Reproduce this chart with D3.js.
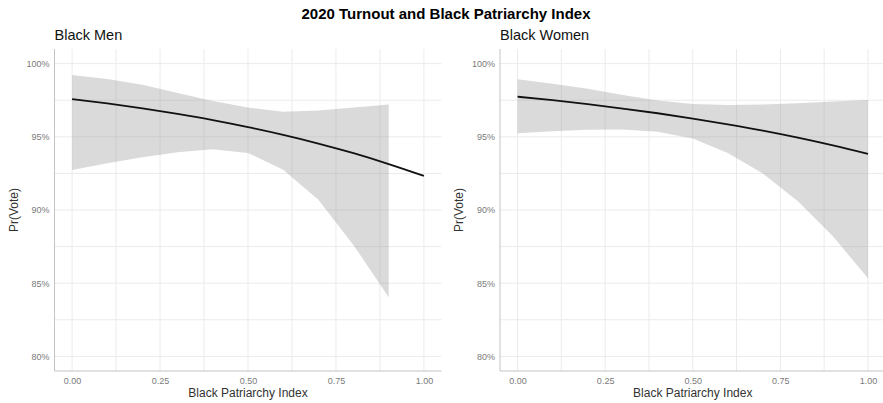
<!DOCTYPE html>
<html>
<head>
<meta charset="utf-8">
<script src="https://cdn.jsdelivr.net/npm/d3@7"></script>
<style>
  html, body { margin: 0; padding: 0; background: #fff; }
  svg { display: block; font-family: "Liberation Sans", Arial, Helvetica, sans-serif; }
</style>
</head>
<body>
<svg id="chart" width="883" height="403"></svg>
<script>
// Black Patriarchy Index values at which predictions were computed
const patriarchyIndex = [0, 0.1, 0.2, 0.3, 0.4, 0.5, 0.6, 0.7, 0.8, 0.9, 1.0];

// Black Men: predicted probability of voting and 95% interval (interval stops at 0.9)
const menFit   = [0.9758, 0.9728, 0.9694, 0.9656, 0.9614, 0.9566, 0.9513, 0.9454, 0.9388, 0.9314, 0.9233];
const menLower = [0.9273, 0.9320, 0.9360, 0.9395, 0.9415, 0.9390, 0.9275, 0.9070, 0.8760, 0.8404, null];
const menUpper = [0.9922, 0.9895, 0.9855, 0.9800, 0.9745, 0.9700, 0.9672, 0.9680, 0.9700, 0.9720, null];

// Black Women: predicted probability of voting and 95% interval
const womenFit   = [0.9774, 0.9750, 0.9723, 0.9693, 0.9661, 0.9625, 0.9585, 0.9542, 0.9494, 0.9441, 0.9383];
const womenLower = [0.9524, 0.9538, 0.9548, 0.9550, 0.9535, 0.9488, 0.9390, 0.9250, 0.9060, 0.8820, 0.8534];
const womenUpper = [0.9893, 0.9862, 0.9828, 0.9785, 0.9748, 0.9725, 0.9717, 0.9720, 0.9730, 0.9742, 0.9752];

// Axis breaks
const yMajor = [0.80, 0.85, 0.90, 0.95, 1.00];
const yMinor = [0.825, 0.875, 0.925, 0.975];
const xMajor = [0, 0.25, 0.5, 0.75, 1.0];
const xMinor = [0.125, 0.375, 0.625, 0.875];

const panels = [
  { title: "Black Men",   fit: menFit,   lower: menLower,   upper: menUpper,   left: 54.5, right: 441.5 },
  { title: "Black Women", fit: womenFit, lower: womenLower, upper: womenUpper, left: 500,  right: 885.5 }
];

const svg = d3.select("#chart");
const plotTop = 49, plotBottom = 371;

svg.append("text")
  .attr("x", 446).attr("y", 19)
  .attr("text-anchor", "middle")
  .attr("font-size", 15).attr("font-weight", "bold").attr("fill", "#000")
  .text("2020 Turnout and Black Patriarchy Index");

panels.forEach(p => {
  const x = d3.scaleLinear().domain([-0.05, 1.05]).range([p.left, p.right]);
  const y = d3.scaleLinear().domain([0.79, 1.01]).range([plotBottom, plotTop]);
  const g = svg.append("g");

  // grid
  g.selectAll(null).data(yMinor.concat(yMajor)).join("line")
    .attr("x1", p.left).attr("x2", p.right)
    .attr("y1", d => y(d)).attr("y2", d => y(d))
    .attr("stroke", "#ebebeb").attr("stroke-width", 1);
  g.selectAll(null).data(xMinor.concat(xMajor)).join("line")
    .attr("x1", d => x(d)).attr("x2", d => x(d))
    .attr("y1", plotTop).attr("y2", plotBottom)
    .attr("stroke", "#ebebeb").attr("stroke-width", 1);

  // confidence ribbon
  const rows = patriarchyIndex.map((v, i) => ({ x: v, fit: p.fit[i], lo: p.lower[i], hi: p.upper[i] }));
  g.append("path")
    .datum(rows)
    .attr("d", d3.area()
      .defined(d => d.lo != null && d.hi != null)
      .x(d => x(d.x)).y0(d => y(d.lo)).y1(d => y(d.hi)))
    .attr("fill", "#999999").attr("fill-opacity", 0.36);

  // fitted line
  g.append("path")
    .datum(rows)
    .attr("d", d3.line().curve(d3.curveMonotoneX).x(d => x(d.x)).y(d => y(d.fit)))
    .attr("fill", "none").attr("stroke", "#111").attr("stroke-width", 1.8);

  // axes
  const yAxis = g.append("g").attr("transform", `translate(${p.left},0)`)
    .call(d3.axisLeft(y).tickValues(yMajor).tickFormat(d3.format(".0%")).tickSize(0).tickPadding(5));
  const xAxis = g.append("g").attr("transform", `translate(0,${plotBottom})`)
    .call(d3.axisBottom(x).tickValues(xMajor).tickFormat(d3.format(".2f")).tickSize(0).tickPadding(7));
  [yAxis, xAxis].forEach(a => {
    a.select(".domain").remove();
    a.selectAll("text").attr("font-size", 9).attr("fill", "#7a7a7a")
      .attr("font-family", "Liberation Sans, Arial, sans-serif");
  });
  g.append("line").attr("x1", p.left).attr("x2", p.left).attr("y1", plotTop).attr("y2", plotBottom)
    .attr("stroke", "#c4c4c4").attr("stroke-width", 1);
  g.append("line").attr("x1", p.left).attr("x2", p.right).attr("y1", plotBottom).attr("y2", plotBottom)
    .attr("stroke", "#c4c4c4").attr("stroke-width", 1);

  // titles
  g.append("text").attr("x", p.left).attr("y", 40)
    .attr("font-size", 14.5).attr("fill", "#111").text(p.title);
  g.append("text")
    .attr("x", (x(0) + x(1)) / 2).attr("y", 397)
    .attr("text-anchor", "middle").attr("font-size", 12).attr("fill", "#333")
    .text("Black Patriarchy Index");
  g.append("text")
    .attr("transform", `translate(${p.left - 37},${(plotTop + plotBottom) / 2}) rotate(-90)`)
    .attr("text-anchor", "middle").attr("font-size", 12).attr("fill", "#333")
    .text("Pr(Vote)");
});
</script>
</body>
</html>
